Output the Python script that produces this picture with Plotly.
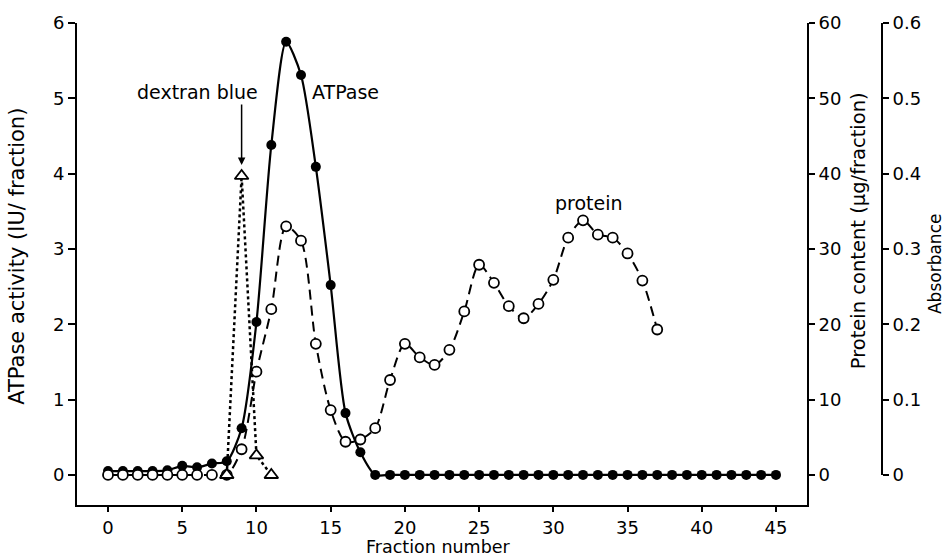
import plotly.graph_objects as go

# ---------------- data ----------------
atp_fraction = list(range(0, 46))
atpase_activity = [0.05, 0.05, 0.05, 0.05, 0.06, 0.12, 0.10, 0.15, 0.18, 0.62,
                   2.03, 4.38, 5.75, 5.31, 4.09, 2.52, 0.82, 0.30, 0.0, 0.0,
                   0.0, 0.0, 0.0, 0.0, 0.0, 0.0, 0.0, 0.0, 0.0, 0.0,
                   0.0, 0.0, 0.0, 0.0, 0.0, 0.0, 0.0, 0.0, 0.0, 0.0,
                   0.0, 0.0, 0.0, 0.0, 0.0, 0.0]

prot_fraction = list(range(0, 38))
protein_content = [0, 0, 0, 0, 0, 0, 0, 0, 0, 3.4,
                   13.7, 22.0, 33.0, 31.1, 17.4, 8.6, 4.4, 4.7, 6.2, 12.6,
                   17.4, 15.6, 14.6, 16.6, 21.7, 27.9, 25.5, 22.4, 20.8, 22.7,
                   25.9, 31.5, 33.8, 31.9, 31.5, 29.4, 25.8, 19.3]

dex_fraction = [8, 9, 10, 11]
dextran_absorbance = [0.0, 0.397, 0.026, 0.0]

x_ticks = [0, 5, 10, 15, 20, 25, 30, 35, 40, 45]
atp_ticks = [0, 1, 2, 3, 4, 5, 6]
prot_ticks = [0, 10, 20, 30, 40, 50, 60]
abs_ticks = [0, 0.1, 0.2, 0.3, 0.4, 0.5, 0.6]
abs_ticktext = ["0", "0.1", "0.2", "0.3", "0.4", "0.5", "0.6"]

# ---------------- figure ----------------
FONT = "DejaVu Sans"
fig = go.Figure()

fig.add_trace(go.Scatter(
    x=dex_fraction, y=dextran_absorbance, xaxis="x", yaxis="y3",
    mode="lines+markers", cliponaxis=False,
    line=dict(color="black", width=2.5, dash="dot"),
    marker=dict(symbol="triangle-up", size=12, color="white",
                line=dict(color="black", width=1.8)),
    showlegend=False))

fig.add_trace(go.Scatter(
    x=prot_fraction, y=protein_content, xaxis="x", yaxis="y2",
    mode="lines+markers", line_shape="spline", cliponaxis=False,
    line=dict(color="black", width=2, dash="10px,6px", smoothing=0.8),
    marker=dict(symbol="circle", size=10, color="white",
                line=dict(color="black", width=1.8)),
    showlegend=False))

fig.add_trace(go.Scatter(
    x=atp_fraction, y=atpase_activity, xaxis="x", yaxis="y",
    mode="lines+markers", line_shape="spline", cliponaxis=False,
    line=dict(color="black", width=2.2, smoothing=0.7),
    marker=dict(symbol="circle", size=10, color="black"),
    showlegend=False))

axis_common = dict(showgrid=False, zeroline=False, showline=True,
                   linecolor="black", linewidth=2, tickcolor="black",
                   tickwidth=1.8, tickfont=dict(family=FONT, size=18, color="black"))

XR = [-2.09, 47.09]
XD = [0, 0.87846]

fig.update_layout(
    width=948, height=559,
    margin=dict(l=77, r=40, t=23, b=54),
    paper_bgcolor="white", plot_bgcolor="rgba(0,0,0,0)",
    font=dict(family=FONT, color="black"),
    xaxis=dict(domain=XD, range=XR, anchor="y", tickvals=x_ticks,
               ticks="outside", ticklen=5, **axis_common),
    xaxis2=dict(domain=XD, range=XR, anchor="y", overlaying="x", side="top",
                tickvals=x_ticks, ticks="inside", ticklen=7,
                showticklabels=False, **axis_common),
    yaxis=dict(domain=[0, 1], range=[-0.4, 6], anchor="x", tickvals=atp_ticks,
               ticks="outside", ticklen=7, **axis_common),
    yaxis2=dict(range=[-4, 60], anchor="x", overlaying="y", side="right",
                tickvals=prot_ticks, ticks="outside", ticklen=6, **axis_common),
    yaxis3=dict(domain=[0.06224, 1], range=[0, 0.6], anchor="free",
                position=0.96871, side="right", tickvals=abs_ticks,
                ticktext=abs_ticktext, ticks="outside", ticklen=6, **axis_common),
)

ann_font = dict(family=FONT, size=19, color="black")
fig.add_annotation(x=6.0, y=5.08, xref="x", yref="y", text="dextran blue",
                   showarrow=False, font=ann_font, xanchor="center", yanchor="middle")
fig.add_annotation(x=16.0, y=5.08, xref="x", yref="y", text="ATPase",
                   showarrow=False, font=ann_font, xanchor="center", yanchor="middle")
fig.add_annotation(x=32.4, y=3.61, xref="x", yref="y", text="protein",
                   showarrow=False, font=ann_font, xanchor="center", yanchor="middle")
fig.add_annotation(x=9, y=0.397, xref="x", yref="y3", text="",
                   showarrow=True, ax=0, ay=-73, standoff=11,
                   arrowhead=2, arrowsize=1, arrowwidth=1.5, arrowcolor="black")

fig.add_annotation(x=-0.0722, y=0.515, xref="paper", yref="paper",
                   text="ATPase activity (IU/ fraction)", textangle=-90,
                   showarrow=False, font=dict(family=FONT, size=21, color="black"),
                   xanchor="center", yanchor="middle")
fig.add_annotation(x=0.9398, y=0.57, xref="paper", yref="paper",
                   text="Protein content (µg/fraction)", textangle=-90,
                   showarrow=False, font=dict(family=FONT, size=19.5, color="black"),
                   xanchor="center", yanchor="middle")
fig.add_annotation(x=1.0325, y=0.50, xref="paper", yref="paper",
                   text="Absorbance", textangle=-90,
                   showarrow=False, font=dict(family=FONT, size=17, color="black"),
                   xanchor="center", yanchor="middle")
fig.add_annotation(x=0.4356, y=-0.0871, xref="paper", yref="paper",
                   text="Fraction number", showarrow=False,
                   font=dict(family=FONT, size=17.5, color="black"),
                   xanchor="center", yanchor="middle")

fig.write_html("out.html")
